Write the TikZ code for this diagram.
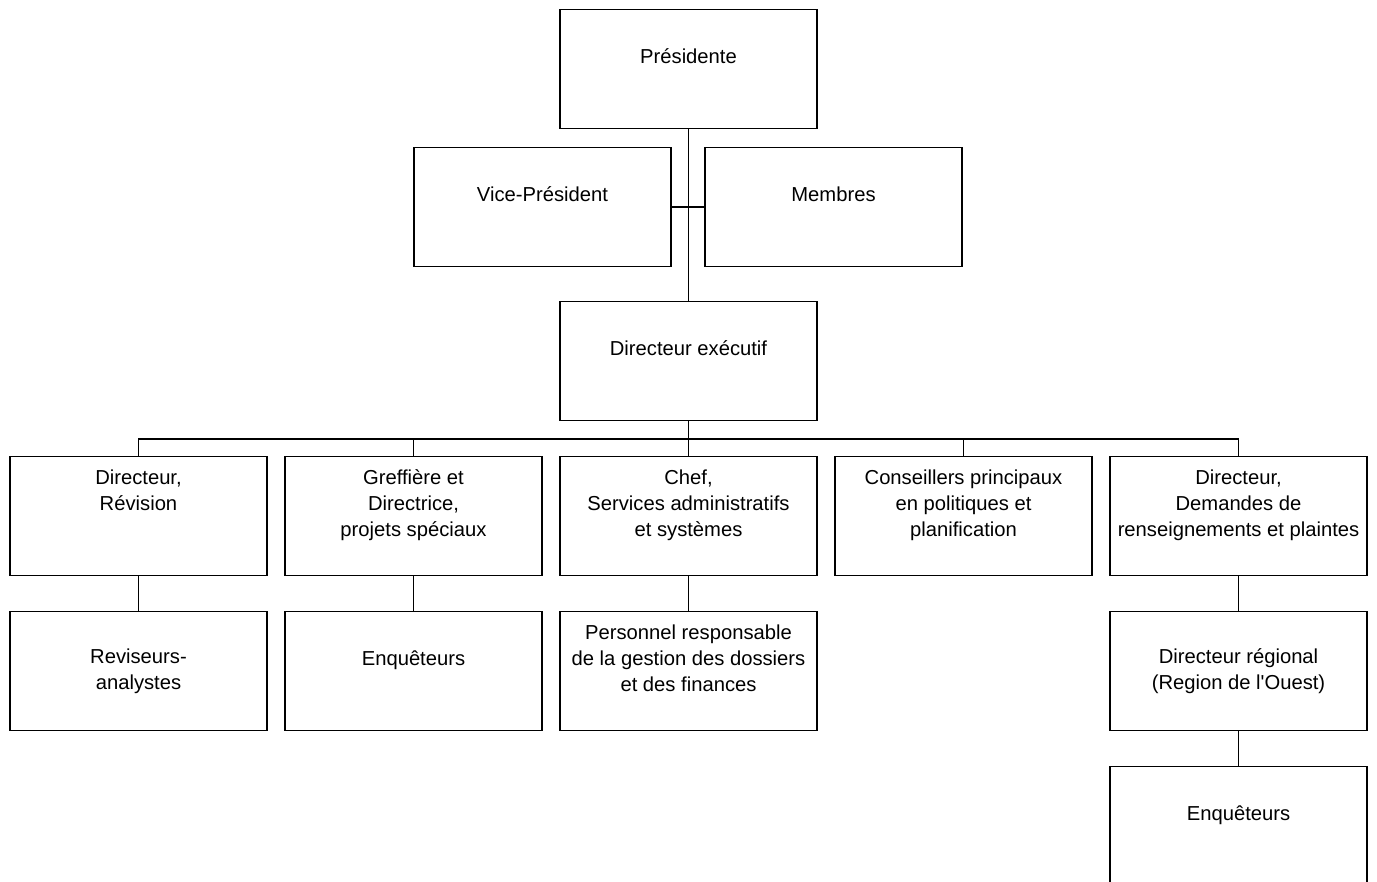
\documentclass[tikz,border=0pt]{standalone}
\usepackage{fontspec}
\setmainfont{Liberation Sans}
\usetikzlibrary{positioning}

\begin{document}
\begin{tikzpicture}[
  node distance=0.36cm,
  box/.style={rectangle, draw=black, line width=0.9pt, fill=white,
    minimum width=5.14cm, minimum height=2.38cm, inner sep=2pt,
    outer sep=0pt, align=center,
    font=\fontsize{11.5}{14.7}\selectfont},
  conn/.style={line width=0.9pt, color=black}
]
  \useasboundingbox (0,0) rectangle (27.54,-17.64);

  % top of the chart
  \node[box] (pres) at (13.77,-1.38) {Présidente\\ \mbox{}};
  \node[box, anchor=north east, below left=0.38cm and 0.35cm of pres.south]
    (vice) {Vice-Président\\ \mbox{}};
  \node[box, anchor=north west, below right=0.38cm and 0.33cm of pres.south]
    (memb) {Membres\\ \mbox{}};
  \node[box, below=3.46cm of pres] (direx) {Directeur exécutif\\ \mbox{}};

  % first row
  \node[box, below=0.72cm of direx] (chef)
    {Chef,\\ Services administratifs\\ et systèmes\\ \mbox{}};
  \node[box, left=of chef] (greff)
    {Greffière et\\ Directrice,\\ projets spéciaux\\ \mbox{}};
  \node[box, left=of greff] (revis) {Directeur,\\ Révision\\ \mbox{}\\ \mbox{}};
  \node[box, right=of chef] (consp)
    {Conseillers principaux\\ en politiques et\\ planification\\ \mbox{}};
  \node[box, right=of consp] (deman)
    {Directeur,\\ Demandes de\\ renseignements et plaintes\\ \mbox{}};

  % second row
  \node[box, below=0.72cm of revis] (analy) {Reviseurs-\\ analystes};
  \node[box, below=0.72cm of greff] (enqA) {Enquêteurs\\ \mbox{}};
  \node[box, below=0.72cm of chef] (perso)
    {Personnel responsable\\ de la gestion des dossiers\\ et des finances\\ \mbox{}};
  \node[box, below=0.72cm of deman] (regio)
    {Directeur régional\\ (Region de l\textquotesingle Ouest)};

  % third row
  \node[box, below=0.72cm of regio] (enqB) {Enquêteurs\\ \mbox{}};

  \draw[conn] (pres) -- (direx);
  \draw[conn] (vice.east) -- (memb.west);
  \draw[conn] (direx.south) -- ++(0,-0.37) -| (revis.north);
  \draw[conn] (direx.south) -- ++(0,-0.37) -| (greff.north);
  \draw[conn] (direx.south) -- (chef.north);
  \draw[conn] (direx.south) -- ++(0,-0.37) -| (consp.north);
  \draw[conn] (direx.south) -- ++(0,-0.37) -| (deman.north);
  \draw[conn] (revis) -- (analy);
  \draw[conn] (greff) -- (enqA);
  \draw[conn] (chef) -- (perso);
  \draw[conn] (deman) -- (regio);
  \draw[conn] (regio) -- (enqB);
\end{tikzpicture}
\end{document}
